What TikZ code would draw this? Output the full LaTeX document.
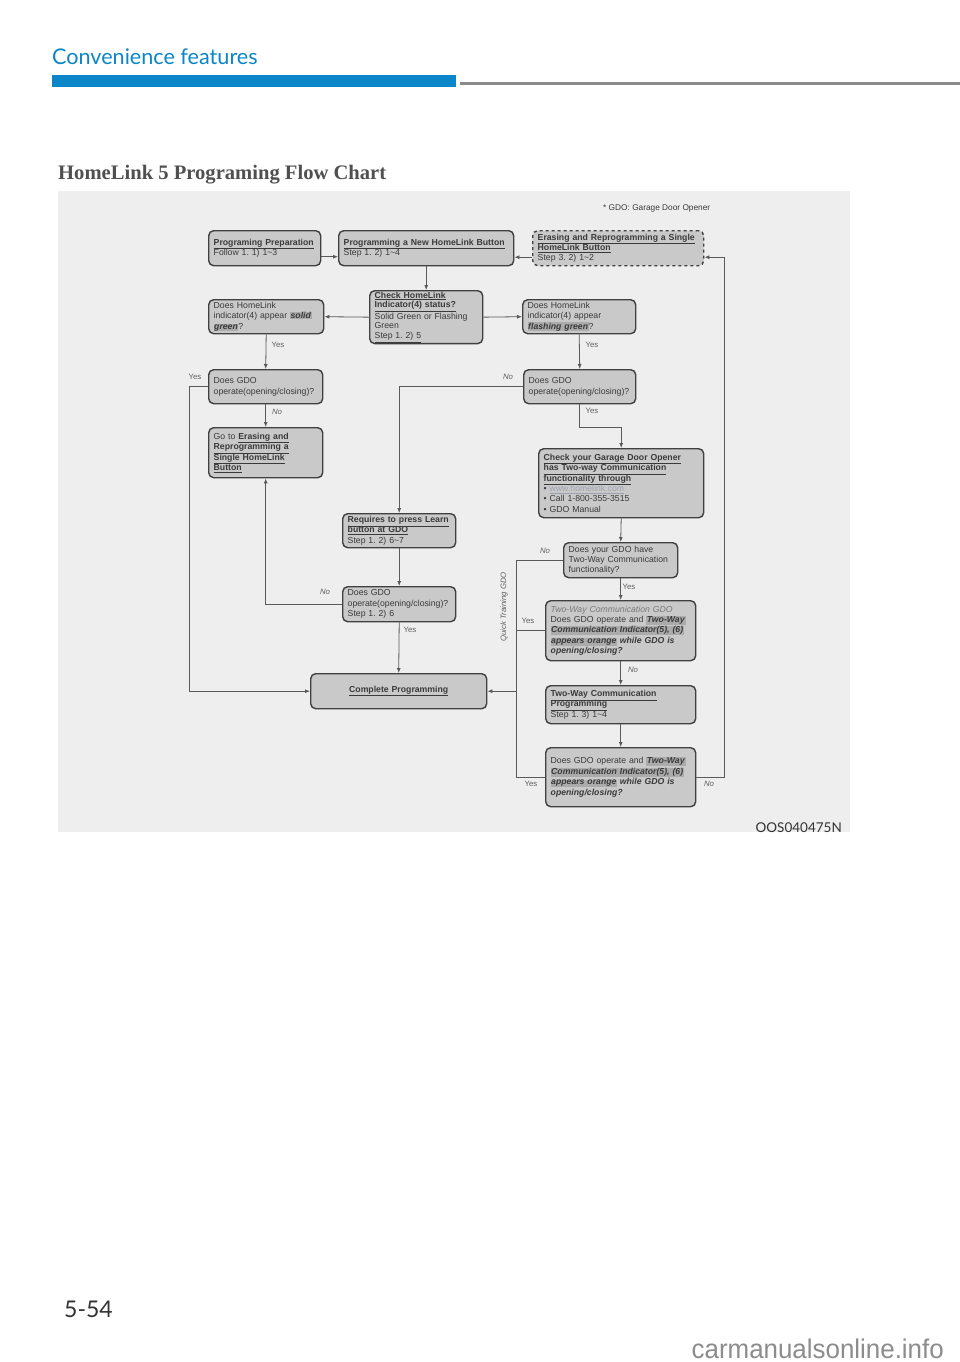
\documentclass[tikz,border=0pt]{standalone}
\usepackage{fontspec}
\usepackage{graphicx}
\setmainfont{Liberation Sans}
\newfontfamily\serifbold{Liberation Serif}
\newfontfamily\hdrfont{Lato}
\usetikzlibrary{arrows.meta,calc}
\frenchspacing
\definecolor{hblue}{HTML}{0A86C9}
\definecolor{hgray}{HTML}{8A8A8A}
\definecolor{titc}{HTML}{505050}
\definecolor{panelc}{HTML}{EEEEEE}
\definecolor{boxc}{HTML}{C9C9C9}
\definecolor{bordc}{HTML}{404040}
\definecolor{txtc}{HTML}{3A3A3A}
\definecolor{linec}{HTML}{5A5A5A}
\definecolor{lblc}{HTML}{606060}
\definecolor{hlc}{HTML}{ABABAB}
\definecolor{linkc}{HTML}{9AA2B0}
\definecolor{softc}{HTML}{7A7A7A}
\definecolor{darkc}{HTML}{333333}
\definecolor{wmc}{HTML}{8C8C8C}
\newcommand{\hlbi}[1]{{\setlength{\fboxsep}{0.5pt}\colorbox{hlc}{\textbf{\textit{#1}}}}}
\newcommand{\bfi}[1]{\textbf{\textit{#1}}}
\newcommand{\ttl}[1]{\underline{\textbf{#1}}}
\tikzset{
  box/.style={draw=bordc, fill=boxc, rounded corners=5pt, line width=1.4pt,
    inner xsep=5pt, inner ysep=2pt, align=left, anchor=north west, text=txtc,
    font=\fontsize{8.7}{10.4}\selectfont\frenchspacing},
  ln/.style={draw=linec, line width=0.8pt},
  arr/.style={ln, -{Latex[length=5pt,width=4pt]}},
  lbl/.style={text=lblc, font=\fontsize{7.8}{9}\selectfont, inner sep=0pt},
}
\begin{document}
\begin{tikzpicture}[x=1pt,y=-1pt]
\useasboundingbox (0,0) rectangle (960,1362);
\fill[white] (0,0) rectangle (960,1362);
% header
\node[anchor=base west, inner sep=0pt, text=hblue, font=\hdrfont\fontsize{21.6}{25}\selectfont] (hdr) at (52,65) {Convenience features};
\fill[hblue] (52,75) rectangle (456,87);
\fill[hgray] (460,82.5) rectangle (960,85.5);
\node[anchor=base west, inner sep=0pt, text=titc, font=\serifbold\bfseries\fontsize{20.6}{24}\selectfont] (title) at (58,179) {HomeLink 5 Programing Flow Chart};
% panel
\fill[panelc] (58,191) rectangle (850,832);
\node[anchor=west, inner sep=0pt, text=txtc, font=\fontsize{8.3}{9}\selectfont] (note) at (603,208) {* GDO: Garage Door Opener};
% boxes
\node[box, minimum width=112pt, minimum height=35pt, text width=102pt] (A) at (208,230)
  {\ttl{Programing Preparation}\\Follow 1. 1) 1\textasciitilde3};
\node[box, minimum width=175pt, minimum height=35pt, text width=165pt] (B) at (338,230)
  {\ttl{Programming a New HomeLink Button}\\Step 1. 2) 1\textasciitilde4};
\node[box, dashed, minimum width=171pt, minimum height=35pt, text width=161pt] (C) at (532,230)
  {\ttl{Erasing and Reprogramming a Single}\\\ttl{HomeLink Button}\\Step 3. 2) 1\textasciitilde2};
\node[box, minimum width=113pt, minimum height=52pt, text width=103pt, inner ysep=1pt,
  font=\fontsize{8.7}{9.9}\selectfont\frenchspacing] (D) at (369,290)
  {\ttl{Check HomeLink}\\\ttl{Indicator(4) status?}\\Solid Green or Flashing\\Green\\\underline{Step 1. 2) 5}};
\node[box, minimum width=115pt, minimum height=34pt, text width=105pt] (E) at (208,299)
  {Does HomeLink\\indicator(4) appear \hlbi{solid}\\\hlbi{green}?};
\node[box, minimum width=113pt, minimum height=34pt, text width=103pt] (F) at (522,299)
  {Does HomeLink\\indicator(4) appear\\\hlbi{flashing green}?};
\node[box, minimum width=114pt, minimum height=34pt, text width=104pt] (G) at (208,369)
  {Does GDO\\operate(opening/closing)?};
\node[box, minimum width=114pt, minimum height=50pt, text width=104pt] (H) at (208,427)
  {Go to \ttl{Erasing and}\\\ttl{Reprogramming a}\\\ttl{Single HomeLink}\\\ttl{Button}};
\node[box, minimum width=112pt, minimum height=34pt, text width=102pt] (I) at (523,369)
  {Does GDO\\operate(opening/closing)?};
\node[box, minimum width=165pt, minimum height=69pt, text width=155pt] (K) at (538,448)
  {\ttl{Check your Garage Door Opener}\\\ttl{has Two-way Communication}\\\ttl{functionality through}\\%
   \textbullet\ {\color{linkc}\underline{www.homelink.com}}\\\textbullet\ Call 1-800-355-3515\\\textbullet\ GDO Manual};
\node[box, minimum width=113pt, minimum height=34pt, text width=103pt] (J) at (342,513)
  {\ttl{Requires to press Learn}\\\ttl{button at GDO}\\Step 1. 2) 6\textasciitilde7};
\node[box, minimum width=113pt, minimum height=35pt, text width=103pt] (L) at (342,586)
  {Does GDO\\operate(opening/closing)?\\Step 1. 2) 6};
\node[box, minimum width=176pt, minimum height=35pt, text width=166pt, align=center] (Q) at (310,673)
  {\ttl{Complete Programming}};
\node[box, minimum width=114pt, minimum height=35pt, text width=104pt] (M) at (563,542)
  {Does your GDO have\\Two-Way Communication\\functionality?};
\node[box, minimum width=150pt, minimum height=60pt, text width=140pt] (N) at (545,600)
  {{\color{softc}\textit{Two-Way Communication GDO}}\\Does GDO operate and \hlbi{Two-Way}\\%
   \hlbi{Communication Indicator(5), (6)}\\\hlbi{appears orange} \bfi{while GDO is}\\\bfi{opening/closing?}};
\node[box, minimum width=150pt, minimum height=38pt, text width=140pt] (O) at (545,685)
  {\ttl{Two-Way Communication}\\\ttl{Programming}\\Step 1. 3) 1\textasciitilde4};
\node[box, minimum width=150pt, minimum height=59pt, text width=140pt] (P) at (545,747)
  {Does GDO operate and \hlbi{Two-Way}\\\hlbi{Communication Indicator(5), (6)}\\%
   \hlbi{appears orange} \bfi{while GDO is}\\\bfi{opening/closing?}};
% connectors
\draw[arr] ([yshift=-8.5pt]A.east) -- ([yshift=-8.5pt]B.west);
\draw[arr] ([yshift=-9pt]C.west) -- ([yshift=-9pt]B.east);
\draw[arr] (B.south) -- (D.north);
\draw[arr] (D.west) -- (E.east);
\draw[arr] (D.east) -- (F.west);
\draw[arr] (E.south) -- (G.north);
\draw[arr] (G.south) -- (H.north);
\draw[arr] (F.south) -- (I.north);
\draw[arr] (I.west) -| (J.north);
\draw[arr] (I.south) -- ++(0,23) -| (K.north);
\draw[arr] (G.west) -- ++(-19,0) |- (Q.west);
\draw[arr] (K.south) -- (M.north);
\draw[arr] (J.south) -- (L.north);
\draw[arr] (L.west) -| (H.south);
\draw[arr] (L.south) -- (Q.north);
\coordinate (bus) at (516,559);
\draw[ln] (M.west) -- (M.west -| bus) -- (bus |- P.west) -- (P.west);
\draw[ln] (N.west) -- (N.west -| bus);
\draw[arr] (bus |- Q.east) -- (Q.east);
\draw[arr] (M.south) -- (N.north);
\draw[arr] (N.south) -- (O.north);
\draw[arr] (O.south) -- (P.north);
\draw[arr] (P.east) -| ([xshift=20pt,yshift=-9pt]C.east) -- ([yshift=-9pt]C.east);
% labels
\node[lbl] (l1) at (278,345) {Yes};
\node[lbl] (l2) at (592,345) {Yes};
\node[lbl] (l3) at (195,377) {Yes};
\node[lbl] (l4) at (277,412) {\textit{No}};
\node[lbl] (l5) at (508,377) {\textit{No}};
\node[lbl] (l6) at (592,411) {Yes};
\node[lbl] (l7) at (325,592) {\textit{No}};
\node[lbl] (l8) at (410,630) {Yes};
\node[lbl] (l9) at (545,551) {\textit{No}};
\node[lbl] (l10) at (629,587) {Yes};
\node[lbl] (l11) at (528,621) {Yes};
\node[lbl] (l12) at (633,670) {\textit{No}};
\node[lbl] (l13) at (531,784) {Yes};
\node[lbl] (l14) at (709,784) {\textit{No}};
\node[lbl, rotate=90] (qt) at (504,607) {\textit{Quick Training GDO}};
% footer
\node[anchor=base east, inner sep=0pt, text=darkc, font=\hdrfont\fontsize{13.5}{15}\selectfont] (code) at (842,832) {OOS040475N};
\node[anchor=base west, inner sep=0pt, text=darkc, font=\hdrfont\fontsize{23}{26}\selectfont] (pg) at (64,1317) {5-54};
\node[anchor=base east, inner sep=0pt, text=wmc, font=\fontsize{27}{30}\selectfont] (wm) at (944,1358) {\scalebox{0.96}[1]{carmanualsonline.info}};
\end{tikzpicture}
\end{document}
